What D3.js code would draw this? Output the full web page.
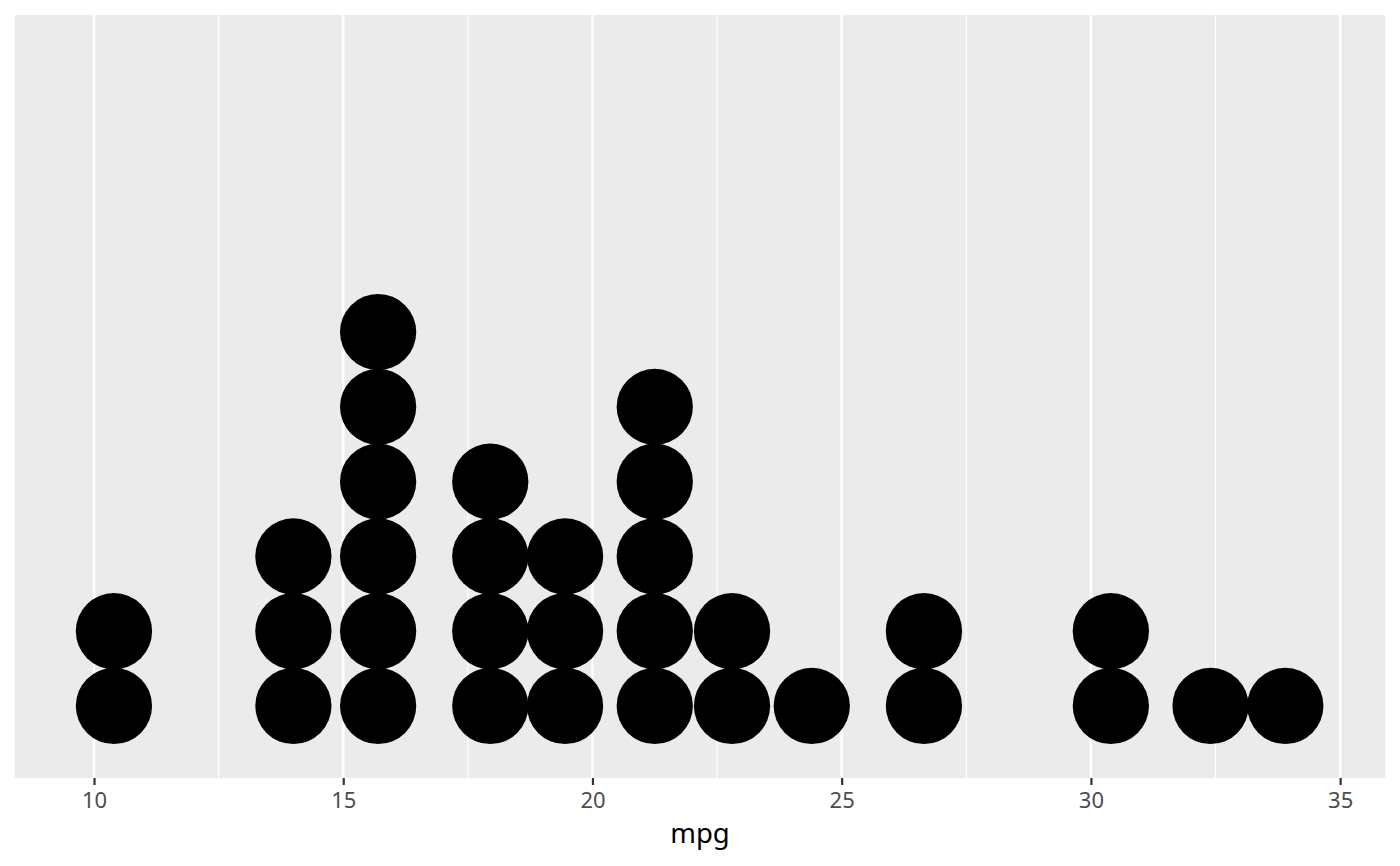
<!DOCTYPE html>
<html>
<head>
<meta charset="utf-8">
<script src="https://cdn.jsdelivr.net/npm/d3@7"></script>
<style>
  body { margin: 0; background: #fff; }
  text { font-family: "Noto Sans", "Open Sans", sans-serif; }
</style>
</head>
<body>
<div id="chart"></div>
<script>
var svgWidth = 1400;
var svgHeight = 866;

var margin = {
    top: 15,
    bottom: 88,
    right: 15,
    left: 15
};

var width = svgWidth - margin.left - margin.right;
var height = svgHeight - margin.top - margin.bottom;

// dot stacks: bin centres (mpg) and how many cars in each
var binCenters = [10.4, 14.0, 15.7, 17.95, 19.45, 21.25, 22.8, 24.4, 26.65, 30.4, 32.4, 33.9];
var binCounts = [2, 3, 6, 4, 3, 5, 2, 1, 2, 2, 1, 1];
var binWidth = 1.5;

var xTicks = [10, 15, 20, 25, 30, 35];
var xMinor = [12.5, 17.5, 22.5, 27.5, 32.5];

var svg = d3.select("#chart")
    .append("svg")
    .attr("width", svgWidth)
    .attr("height", svgHeight);

var chartGroup = svg.append("g")
    .attr("transform", `translate(${margin.left}, ${margin.top})`);

var xScale = d3.scaleLinear()
    .domain([8.415, 35.9])
    .range([0, width]);

// y is ggplot's 0..1 count axis with 5% expansion
var yScale = d3.scaleLinear()
    .domain([-0.05, 1.05])
    .range([height, 0]);

// panel background
chartGroup.append("rect")
    .attr("width", width)
    .attr("height", height)
    .attr("fill", "#EBEBEB");

// grid lines
chartGroup.selectAll(".minor")
    .data(xMinor)
    .enter()
    .append("line")
    .attr("x1", d => xScale(d))
    .attr("x2", d => xScale(d))
    .attr("y1", 0)
    .attr("y2", height)
    .attr("stroke", "#fff")
    .attr("stroke-width", 1.2);

chartGroup.selectAll(".major")
    .data(xTicks)
    .enter()
    .append("line")
    .attr("x1", d => xScale(d))
    .attr("x2", d => xScale(d))
    .attr("y1", 0)
    .attr("y2", height)
    .attr("stroke", "#fff")
    .attr("stroke-width", 2.5);

// one record per dot
var dots = [];
binCenters.forEach(function(c, i) {
    for (var k = 0; k < binCounts[i]; k++) {
        dots.push({ x: c, level: k });
    }
});

var dotDiam = xScale(binWidth) - xScale(0);

// ggplot draws an outline on top of the bin-width circle, so pad the radius a touch
chartGroup.selectAll("circle")
    .data(dots)
    .enter()
    .append("circle")
    .attr("cx", d => xScale(d.x))
    .attr("cy", d => yScale(0) - dotDiam / 2 - d.level * dotDiam)
    .attr("r", dotDiam / 2 + 0.75)
    .attr("fill", "black");

// x axis
var bottomAxis = d3.axisBottom(xScale)
    .tickValues(xTicks)
    .tickSize(7)
    .tickPadding(7);

var xAxis = chartGroup.append("g")
    .attr("transform", `translate(0, ${height})`)
    .call(bottomAxis);

xAxis.select(".domain").remove();
xAxis.selectAll("line")
    .attr("stroke", "#333")
    .attr("stroke-width", 2.2);
xAxis.selectAll("text")
    .attr("fill", "#4D4D4D")
    .style("font-size", "22px")
    .style("font-family", "'Noto Sans', 'Open Sans', sans-serif");

chartGroup.append("text")
    .attr("x", width / 2)
    .attr("y", 843 - margin.top)
    .attr("text-anchor", "middle")
    .attr("fill", "black")
    .style("font-size", "27.5px")
    .text("mpg");
</script>
</body>
</html>
